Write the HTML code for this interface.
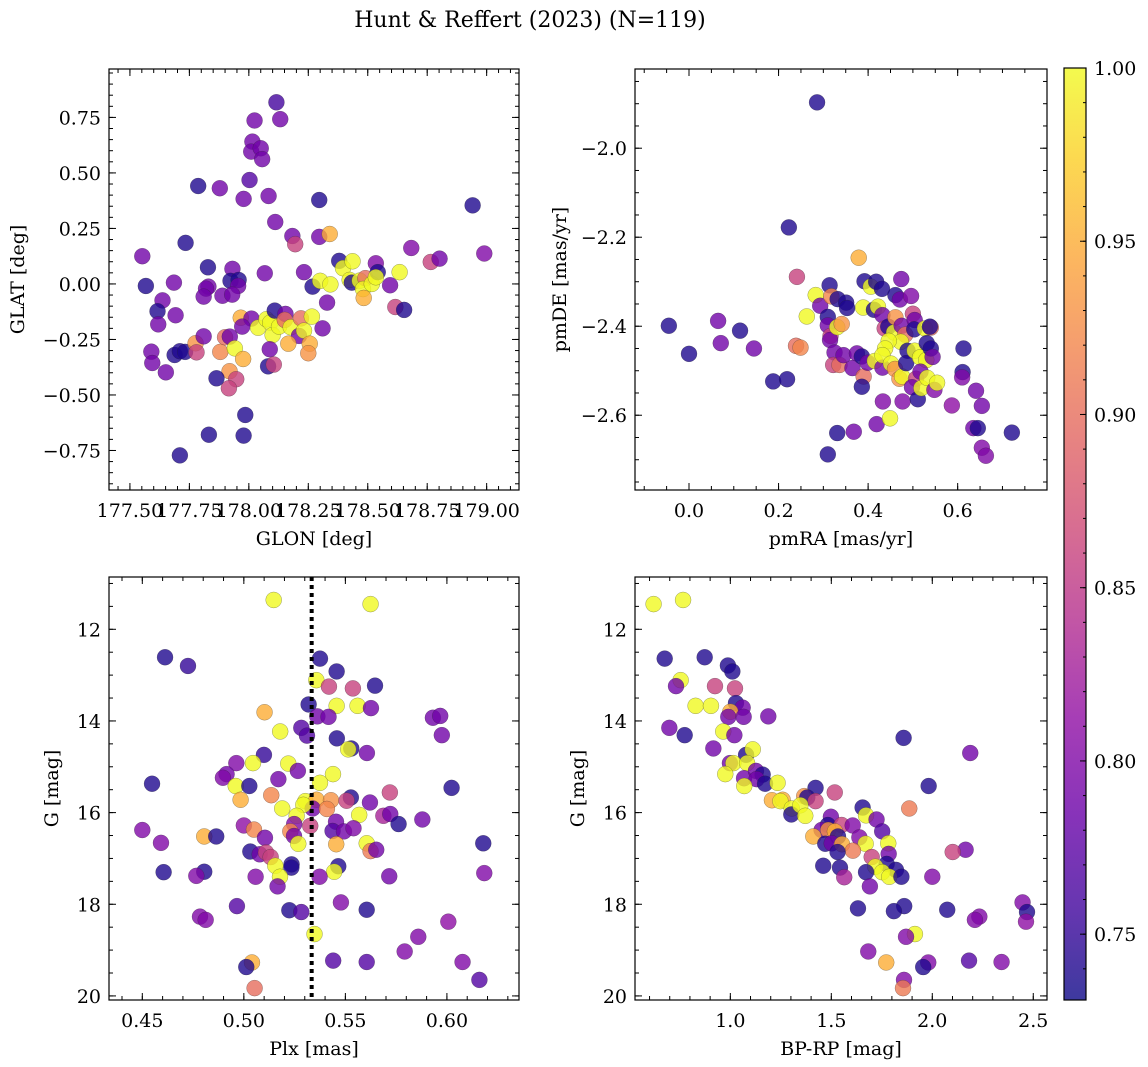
<!DOCTYPE html>
<html><head><meta charset="utf-8"><style>
html,body{margin:0;padding:0;background:#fff;}
svg{display:block;font-family:"DejaVu Serif","Liberation Serif",serif;}
</style></head><body>
<svg id="fig" width="1148" height="1067" viewBox="0 0 1148 1067" xmlns="http://www.w3.org/2000/svg">
<text x="530" y="27" font-size="22" text-anchor="middle">Hunt &amp; Reffert (2023) (N=119)</text>
<defs><linearGradient id="cmapgrad" x1="0" y1="1" x2="0" y2="0"></linearGradient></defs>
</svg>
<script>
// ---------- data ----------
const p1Glon=[178.116,178.132,178.024,178.015,178.01,178.05,178.056,178.003,177.787,177.878,177.978,178.083,178.296,178.111,178.941,178.183,178.296,178.34,178.195,177.734,177.552,178.683,178.765,178.802,178.99,177.828,177.931,178.067,178.232,178.38,177.567,177.685,177.83,177.82,177.81,177.889,177.923,177.957,177.955,177.93,177.637,177.616,177.619,177.692,177.59,177.594,177.651,177.688,177.71,177.732,177.776,177.78,177.81,177.88,177.9,177.92,177.941,177.919,177.947,177.916,177.976,177.864,177.966,178.011,177.972,178.039,177.985,177.832,177.978,177.71,178.074,178.09,178.1,178.127,178.109,178.154,178.151,178.176,178.219,178.211,178.232,178.265,178.166,178.256,178.25,178.088,178.081,178.105,178.31,178.329,178.268,178.3,178.343,178.396,178.436,178.424,178.433,178.466,178.49,178.48,178.483,178.517,178.534,178.542,178.534,178.594,178.634,178.616,178.653];
const p1Glat=[0.818,0.742,0.736,0.641,0.596,0.611,0.562,0.468,0.441,0.431,0.383,0.396,0.378,0.279,0.354,0.216,0.212,0.225,0.179,0.185,0.125,0.162,0.099,0.114,0.137,0.075,0.068,0.048,0.053,0.104,-0.009,0.006,-0.012,-0.021,-0.057,-0.053,0.014,0.018,-0.009,-0.048,-0.074,-0.123,-0.182,-0.141,-0.305,-0.356,-0.398,-0.32,-0.303,-0.306,-0.267,-0.308,-0.236,-0.306,-0.24,-0.237,-0.29,-0.393,-0.429,-0.47,-0.338,-0.425,-0.152,-0.156,-0.192,-0.197,-0.59,-0.679,-0.683,-0.772,-0.159,-0.174,-0.23,-0.192,-0.12,-0.135,-0.162,-0.195,-0.155,-0.234,-0.21,-0.147,-0.269,-0.269,-0.312,-0.294,-0.371,-0.363,-0.2,-0.084,-0.012,0.014,-0.002,0.071,0.102,0.018,0.006,0.015,0.026,-0.023,-0.063,0.0,0.093,0.053,0.03,-0.006,0.053,-0.104,-0.117];
const p1Prob=[0.76,0.79,0.79,0.79,0.79,0.79,0.79,0.77,0.74,0.79,0.79,0.79,0.74,0.79,0.74,0.79,0.79,0.95,0.86,0.74,0.79,0.80,0.86,0.79,0.80,0.74,0.79,0.79,0.79,0.74,0.74,0.79,0.79,0.79,0.79,0.79,0.74,0.74,0.79,0.79,0.79,0.74,0.79,0.79,0.79,0.79,0.79,0.74,0.74,0.74,0.93,0.86,0.79,0.92,0.90,0.79,1.0,0.93,0.86,0.86,0.95,0.74,0.95,0.79,0.79,1.0,0.74,0.74,0.74,0.74,1.0,1.0,1.0,1.0,0.74,0.79,0.90,1.0,0.90,0.79,1.0,1.0,0.95,0.95,0.93,0.79,0.74,0.86,0.79,0.79,0.74,1.0,1.0,1.0,1.0,1.0,0.74,1.0,0.90,1.0,0.95,1.0,0.80,0.74,1.0,0.79,1.0,0.86,0.74];

const p2PmRA=[0.286,0.223,0.379,0.241,-0.045,0,0.065,0.071,0.114,0.145,0.188,0.219,0.239,0.249,0.263,0.283,0.293,0.314,0.318,0.332,0.351,0.353,0.31,0.31,0.316,0.315,0.331,0.341,0.325,0.322,0.336,0.345,0.365,0.375,0.386,0.39,0.386,0.392,0.406,0.418,0.431,0.389,0.413,0.422,0.432,0.399,0.415,0.432,0.433,0.419,0.449,0.331,0.368,0.31,0.437,0.445,0.458,0.461,0.474,0.461,0.471,0.475,0.483,0.473,0.446,0.438,0.432,0.451,0.46,0.47,0.476,0.477,0.488,0.485,0.496,0.5,0.504,0.503,0.504,0.516,0.53,0.507,0.498,0.511,0.517,0.519,0.527,0.54,0.538,0.531,0.54,0.544,0.532,0.548,0.554,0.587,0.613,0.611,0.61,0.641,0.654,0.635,0.645,0.654,0.663,0.721];
const p2PmDE=[-1.897,-2.178,-2.246,-2.289,-2.399,-2.462,-2.388,-2.438,-2.41,-2.45,-2.524,-2.519,-2.444,-2.448,-2.378,-2.33,-2.354,-2.308,-2.333,-2.339,-2.347,-2.359,-2.379,-2.398,-2.422,-2.431,-2.402,-2.395,-2.459,-2.487,-2.487,-2.465,-2.494,-2.461,-2.468,-2.513,-2.536,-2.299,-2.311,-2.3,-2.316,-2.358,-2.363,-2.356,-2.375,-2.482,-2.478,-2.493,-2.569,-2.62,-2.607,-2.64,-2.637,-2.688,-2.405,-2.401,-2.414,-2.38,-2.294,-2.33,-2.34,-2.399,-2.419,-2.435,-2.433,-2.45,-2.465,-2.484,-2.496,-2.518,-2.513,-2.569,-2.455,-2.483,-2.332,-2.372,-2.386,-2.407,-2.455,-2.47,-2.476,-2.518,-2.537,-2.564,-2.502,-2.539,-2.405,-2.403,-2.401,-2.438,-2.45,-2.469,-2.516,-2.543,-2.527,-2.578,-2.45,-2.503,-2.515,-2.545,-2.579,-2.629,-2.629,-2.673,-2.691,-2.639];
const p2Prob=[0.74,0.74,0.95,0.86,0.74,0.74,0.79,0.79,0.74,0.79,0.74,0.74,0.90,0.92,1.0,1.0,0.79,0.74,0.92,0.74,0.74,0.74,0.74,0.79,0.86,0.79,1.0,0.93,0.79,0.86,0.90,0.79,0.79,0.79,0.74,0.90,0.74,0.74,1.0,0.74,0.74,1.0,0.74,1.0,0.79,0.79,1.0,0.79,0.80,0.79,1.0,0.74,0.79,0.74,0.86,0.74,1.0,0.93,0.79,0.74,0.79,0.79,0.90,1.0,1.0,1.0,1.0,1.0,0.93,0.93,1.0,0.80,0.74,0.74,0.80,0.86,0.79,0.74,1.0,1.0,1.0,0.86,0.79,0.74,0.79,1.0,1.0,0.90,0.74,0.74,0.74,0.79,1.0,0.80,1.0,0.81,0.74,0.74,0.80,0.79,0.79,0.79,0.74,0.80,0.80,0.74];

const p3Plx=[0.5147,0.5624,0.4612,0.4725,0.5375,0.5457,0.5357,0.5419,0.5537,0.5646,0.5319,0.5457,0.556,0.5626,0.5102,0.5362,0.5417,0.5931,0.5967,0.5975,0.5179,0.5283,0.5311,0.5458,0.5529,0.5514,0.5606,0.5099,0.4963,0.5045,0.5219,0.5266,0.4915,0.4897,0.517,0.5439,0.5375,0.4548,0.496,0.5027,0.6023,0.5719,0.5135,0.4984,0.5303,0.5358,0.5429,0.5527,0.5506,0.5621,0.5339,0.5293,0.5189,0.5409,0.526,0.5568,0.5687,0.5721,0.5879,0.5454,0.5762,0.45,0.5,0.505,0.5248,0.5327,0.5229,0.5437,0.5493,0.554,0.4805,0.4864,0.5247,0.5104,0.4592,0.5268,0.5455,0.5605,0.5624,0.5652,0.6179,0.5032,0.5078,0.5109,0.5132,0.5235,0.5234,0.5465,0.5445,0.5155,0.5178,0.4605,0.4805,0.4766,0.5058,0.5373,0.5716,0.6184,0.5166,0.4966,0.5478,0.5224,0.5283,0.5605,0.4784,0.4812,0.6007,0.5348,0.5859,0.5792,0.544,0.5605,0.6077,0.504,0.5012,0.616,0.5053];
const p3G=[11.36,11.45,12.61,12.80,12.64,12.92,13.11,13.25,13.29,13.23,13.64,13.67,13.67,13.72,13.81,13.90,13.91,13.93,13.89,14.31,14.23,14.15,14.32,14.38,14.60,14.62,14.70,14.74,14.92,14.92,14.93,15.09,15.16,15.24,15.27,15.16,15.35,15.37,15.42,15.42,15.46,15.56,15.62,15.72,15.75,15.72,15.73,15.67,15.74,15.78,15.91,15.83,15.91,15.92,16.07,16.05,16.07,16.03,16.15,16.2,16.25,16.38,16.28,16.37,16.25,16.29,16.41,16.40,16.41,16.34,16.52,16.52,16.51,16.55,16.66,16.68,16.69,16.67,16.84,16.81,16.67,16.85,16.91,16.87,16.97,17.13,17.2,17.17,17.29,17.16,17.40,17.30,17.29,17.38,17.40,17.40,17.39,17.32,17.61,18.04,17.96,18.13,18.17,18.12,18.27,18.34,18.38,18.65,18.71,19.03,19.23,19.26,19.26,19.27,19.37,19.65,19.83];
const p3Prob=[1.0,1.0,0.74,0.75,0.74,0.74,1.0,0.86,0.86,0.74,0.74,1.0,1.0,0.79,0.95,0.79,0.79,0.79,0.79,0.79,1.0,0.77,0.77,0.74,0.74,1.0,0.79,0.75,0.80,1.0,1.0,0.79,0.79,0.80,0.79,1.0,1.0,0.74,1.0,0.74,0.74,0.86,0.92,0.95,1.0,0.95,0.93,0.74,0.86,0.79,0.79,1.0,1.0,0.92,1.0,1.0,0.83,0.79,0.79,0.79,0.74,0.80,0.81,0.92,0.80,0.86,0.92,0.77,0.79,0.80,0.95,0.74,0.79,0.79,0.80,1.0,0.95,1.0,0.91,0.79,0.74,0.74,0.79,0.86,0.86,0.74,0.74,0.74,1.0,1.0,1.0,0.74,0.74,0.80,0.80,0.80,0.79,0.80,0.79,0.77,0.80,0.74,0.77,0.74,0.80,0.80,0.81,1.0,0.80,0.80,0.77,0.77,0.80,0.95,0.74,0.77,0.90];

const p4BpRp=[0.620,0.766,0.675,0.873,0.754,0.731,0.924,0.988,1.01,1.023,0.828,0.904,1.028,1.061,1.0,0.99,1.066,1.188,0.698,0.774,0.965,1.02,1.858,2.188,0.916,1.078,1.111,0.998,1.015,1.083,0.975,1.068,1.127,1.16,1.13,1.172,1.069,1.234,1.982,1.422,1.517,1.206,1.259,1.248,1.366,1.381,1.422,1.304,1.302,1.347,1.371,1.886,1.655,1.672,1.724,1.752,1.498,1.483,1.551,1.606,1.452,1.485,1.518,1.411,1.533,1.639,1.47,1.502,1.553,1.67,1.782,1.607,1.531,1.784,2.165,2.101,1.7,1.46,1.543,1.774,1.82,1.718,1.752,1.787,1.847,1.672,1.564,2.0,1.691,2.447,1.861,1.632,1.81,2.074,2.469,2.233,2.211,2.464,1.914,1.87,1.683,1.772,1.98,1.955,2.182,2.343,1.86,1.855];
const p4G=[11.45,11.36,12.64,12.61,13.11,13.24,13.24,12.79,12.92,13.29,13.67,13.67,13.61,13.71,13.80,13.91,13.91,13.90,14.15,14.31,14.23,14.31,14.37,14.70,14.6,14.74,14.62,14.92,14.92,14.92,15.16,15.25,15.09,15.17,15.27,15.37,15.42,15.35,15.42,15.46,15.56,15.73,15.72,15.75,15.64,15.67,15.75,15.91,16.04,15.84,16.07,15.91,15.89,16.06,16.15,16.41,16.09,16.27,16.27,16.28,16.38,16.38,16.41,16.52,16.52,16.54,16.68,16.67,16.69,16.68,16.67,16.83,16.86,16.90,16.81,16.86,16.97,17.16,17.2,17.12,17.25,17.18,17.30,17.40,17.40,17.30,17.41,17.40,17.61,17.96,18.04,18.09,18.15,18.12,18.17,18.27,18.34,18.38,18.65,18.71,19.03,19.27,19.27,19.37,19.23,19.26,19.65,19.83];
const p4Prob=[1.0,1.0,0.74,0.74,1.0,0.79,0.86,0.74,0.74,0.86,1.0,1.0,0.74,0.79,0.95,0.79,0.79,0.79,0.79,0.74,1.0,0.79,0.74,0.79,0.79,0.74,1.0,0.79,1.0,1.0,1.0,0.79,0.79,0.74,0.79,0.74,1.0,1.0,0.74,0.74,0.86,0.95,0.95,1.0,0.93,0.74,0.86,1.0,0.74,1.0,1.0,0.91,0.74,1.0,0.79,0.77,0.79,0.74,0.86,0.80,0.79,0.93,0.95,0.95,0.74,0.80,0.74,0.79,0.95,1.0,1.0,0.91,0.74,0.79,0.79,0.86,0.86,0.74,0.74,0.74,0.74,1.0,1.0,1.0,0.74,0.74,0.83,0.80,0.79,0.80,0.74,0.74,0.74,0.74,0.74,0.80,0.80,0.81,1.0,0.80,0.80,0.95,0.80,0.74,0.77,0.80,0.80,0.91];

const cbTicks=[0.75,0.80,0.85,0.90,0.95,1.00];
const vmin=0.731, vmax=1.0;
const plxRef=0.5334;

// ---------- helpers ----------
const NS="http://www.w3.org/2000/svg";
const svg=document.getElementById('fig');
function mk(tag,attrs,parent){const e=document.createElementNS(NS,tag);for(const k in attrs)e.setAttribute(k,attrs[k]);(parent||svg).appendChild(e);return e;}
const plasma=[[13,8,135],[65,4,157],[106,0,168],[143,13,164],[177,42,144],[204,71,120],[225,100,98],[242,132,75],[252,166,54],[252,206,37],[240,249,33]];
function cmap(v){let t=(v-vmin)/(vmax-vmin);t=Math.max(0,Math.min(1,t));const f=t*10,i=Math.min(9,Math.floor(f)),r=f-i;const a=plasma[i],b=plasma[i+1];return 'rgb('+[0,1,2].map(k=>Math.round(a[k]+(b[k]-a[k])*r)).join(',')+')';}
function fmtMinus(s){return s.replace('-','\u2212');}
function range(a,b,s){const o=[];for(let v=a;v<=b+s*1e-6;v+=s)o.push(+v.toFixed(6));return o;}
const TFS=19, AFS=19;

function panel(c){
  const g=mk('g',{});
  
  
  const sx=v=>c.x0+(v-c.xlim[0])/(c.xlim[1]-c.xlim[0])*(c.x1-c.x0);
  const sy=c.yinv?(v=>c.y0+(v-c.ylim[0])/(c.ylim[1]-c.ylim[0])*(c.y1-c.y0)):(v=>c.y1-(v-c.ylim[0])/(c.ylim[1]-c.ylim[0])*(c.y1-c.y0));
  const clipId='clip-'+c.name;
  const cp=mk('clipPath',{id:clipId},g);mk('rect',{x:c.x0,y:c.y0,width:c.x1-c.x0,height:c.y1-c.y0},cp);
  const pts=mk('g',{'clip-path':'url(#'+clipId+')'},g);
  
  
  for(let i=0;i<c.xs.length;i++){
    const p=mk('circle',{cx:sx(c.xs[i]).toFixed(2),cy:sy(c.ys[i]).toFixed(2),r:8,fill:cmap(c.cs[i]),'fill-opacity':0.8,stroke:'rgba(40,40,40,0.45)','stroke-width':0.5},pts);
    
    
  }
  if(c.vline!==undefined){
    const l=mk('line',{x1:sx(c.vline),x2:sx(c.vline),y1:c.y0,y2:c.y1,stroke:'#000','stroke-width':4,'stroke-dasharray':'4 4'},g);
    
    
  }
  const fr=mk('rect',{x:c.x0,y:c.y0,width:c.x1-c.x0,height:c.y1-c.y0,fill:'none',stroke:'#000','stroke-width':1.2},g);
  
  
  const tk=mk('g',{stroke:'#000','stroke-width':1},g);
  const xl=[c.xlim[0],c.xlim[1]].sort((a,b)=>a-b), yl=[c.ylim[0],c.ylim[1]].sort((a,b)=>a-b);
  c.xminor.forEach(v=>{if(v<xl[0]||v>xl[1])return;const X=sx(v);mk('line',{x1:X,x2:X,y1:c.y1,y2:c.y1-4},tk);mk('line',{x1:X,x2:X,y1:c.y0,y2:c.y0+4},tk);});
  c.yminor.forEach(v=>{if(v<yl[0]||v>yl[1])return;const Y=sy(v);mk('line',{x1:c.x0,x2:c.x0+4,y1:Y,y2:Y},tk);mk('line',{x1:c.x1,x2:c.x1-4,y1:Y,y2:Y},tk);});
  const xt=mk('g',{'font-size':TFS,'text-anchor':'middle'},g);
  
  
  c.xmajor.forEach(v=>{if(v<xl[0]||v>xl[1])return;const X=sx(v);mk('line',{x1:X,x2:X,y1:c.y1,y2:c.y1-7},tk);mk('line',{x1:X,x2:X,y1:c.y0,y2:c.y0+7},tk);const t=mk('text',{x:X,y:c.y1+27},xt);t.textContent=fmtMinus(v.toFixed(c.xdec));});
  const yt=mk('g',{'font-size':TFS,'text-anchor':'end'},g);
  
  
  c.ymajor.forEach(v=>{if(v<yl[0]||v>yl[1])return;const Y=sy(v);mk('line',{x1:c.x0,x2:c.x0+7,y1:Y,y2:Y},tk);mk('line',{x1:c.x1,x2:c.x1-7,y1:Y,y2:Y},tk);const t=mk('text',{x:c.x0-8,y:Y+7},yt);t.textContent=fmtMinus(v.toFixed(c.ydec));});
  const xa=mk('text',{x:(c.x0+c.x1)/2,y:c.y1+55,'font-size':AFS,'text-anchor':'middle'},g);xa.textContent=c.xlabel;
  
  
  const yx=c.ylabX, yy=(c.y0+c.y1)/2;
  const ya=mk('text',{x:yx,y:yy,'font-size':AFS,'text-anchor':'middle',transform:'rotate(-90 '+yx+' '+yy+')'},g);ya.textContent=c.ylabel;
  
  
}

panel({name:'glon-glat-panel',x0:109,x1:519,y0:69,y1:490,xlim:[177.412,179.136],ylim:[-0.928,0.968],xs:p1Glon,ys:p1Glat,cs:p1Prob,
  xmajor:range(177.5,179.0,0.25),xminor:range(177.45,179.1,0.05),ymajor:range(-0.75,0.75,0.25),yminor:range(-0.9,0.95,0.05),xdec:2,ydec:2,
  xlabel:'GLON [deg]',ylabel:'GLAT [deg]',ylabX:24});
panel({name:'proper-motion-panel',x0:635,x1:1047,y0:69,y1:490,xlim:[-0.1206,0.7995],ylim:[-2.768,-1.822],xs:p2PmRA,ys:p2PmDE,cs:p2Prob,
  xmajor:range(0,0.6,0.2),xminor:range(-0.1,0.75,0.05),ymajor:range(-2.6,-2.0,0.2),yminor:range(-2.75,-1.85,0.05),xdec:1,ydec:1,
  xlabel:'pmRA [mas/yr]',ylabel:'pmDE [mas/yr]',ylabX:566});
panel({name:'parallax-magnitude-panel',x0:109,x1:519,y0:577,y1:1000,xlim:[0.4336,0.6355],ylim:[10.859,20.089],yinv:true,xs:p3Plx,ys:p3G,cs:p3Prob,vline:plxRef,
  xmajor:range(0.45,0.60,0.05),xminor:range(0.44,0.63,0.01),ymajor:range(12,20,2),yminor:range(11,20,0.5),xdec:2,ydec:0,
  xlabel:'Plx [mas]',ylabel:'G [mag]',ylabX:58});
panel({name:'color-magnitude-panel',x0:635,x1:1047,y0:577,y1:1000,xlim:[0.528,2.568],ylim:[10.859,20.089],yinv:true,xs:p4BpRp,ys:p4G,cs:p4Prob,
  xmajor:range(1.0,2.5,0.5),xminor:range(0.6,2.5,0.1),ymajor:range(12,20,2),yminor:range(11,20,0.5),xdec:1,ydec:0,
  xlabel:'BP-RP [mag]',ylabel:'G [mag]',ylabX:584});

// ---------- colorbar ----------
const grad=document.getElementById('cmapgrad');
for(let i=0;i<=10;i++){mk('stop',{offset:(i/10),'stop-color':cmap(vmin+(vmax-vmin)*i/10),'stop-opacity':0.8},grad);}
const cb=mk('g',{});


const cbx0=1064,cbx1=1086,cby0=68,cby1=1000;
mk('rect',{x:cbx0,y:cby0,width:cbx1-cbx0,height:cby1-cby0,fill:'url(#cmapgrad)',stroke:'#000','stroke-width':1.2},cb);
const cby=v=>cby1-(v-vmin)/(vmax-vmin)*(cby1-cby0);
for(let v=0.74;v<=1.0001;v+=0.01){const Y=cby(v);mk('line',{x1:cbx1,x2:cbx1-3,y1:Y,y2:Y,stroke:'#000','stroke-width':1},cb);}
cbTicks.forEach(v=>{const Y=cby(v);mk('line',{x1:cbx1,x2:cbx1-6,y1:Y,y2:Y,stroke:'#000','stroke-width':1},cb);
  const t=mk('text',{x:cbx1+8,y:Y+7,'font-size':TFS},cb);t.textContent=v.toFixed(2);
  
  });
</script>
</body></html>
